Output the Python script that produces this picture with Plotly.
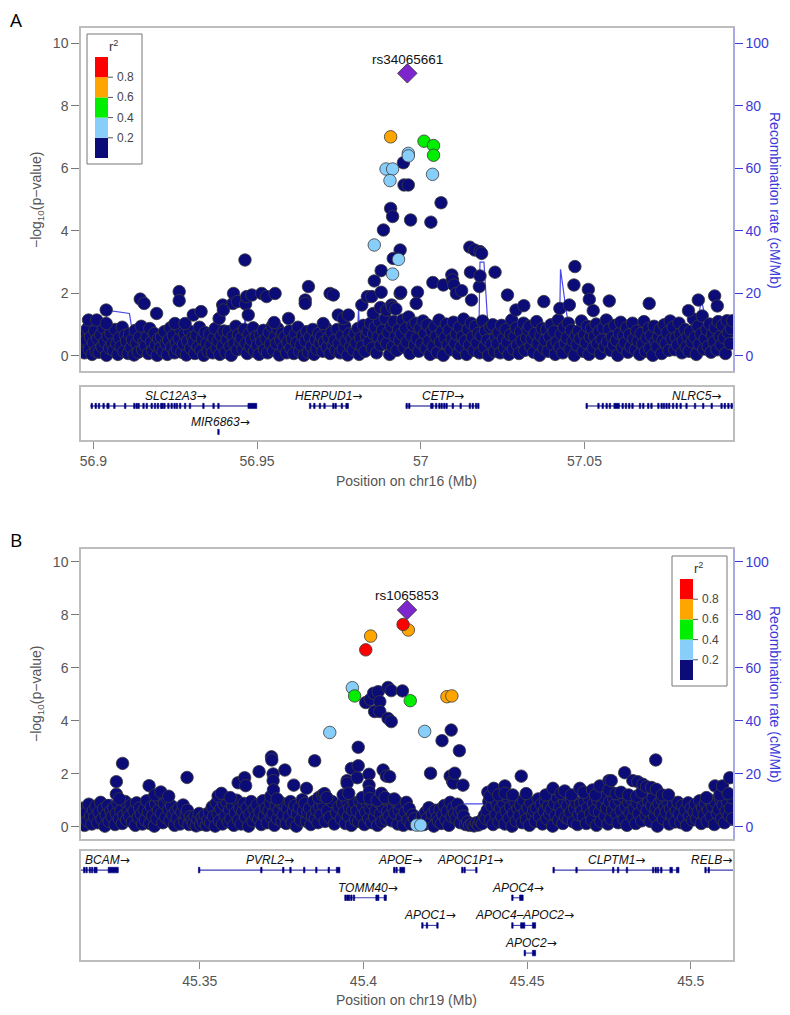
import plotly.graph_objects as go

# ================= PANEL A (chr16) =================
a_range = [56.8962, 57.0954]
a_ticks = [56.9, 56.95, 57.0, 57.05]
a_ticktext = ["56.9", "56.95", "57", "57.05"]

# dense background of weakly associated SNPs (r2 < 0.2)
a_band_pos = [
    56.8964,56.8969,56.8973,56.8978,56.8982,56.8987,56.8991,56.8996,56.9000,56.9004,56.9008,
    56.9013,56.9017,56.9022,56.9026,56.9030,56.9035,56.9040,56.9044,56.9049,56.9053,56.9057,
    56.9062,56.9066,56.9071,56.9075,56.9079,56.9084,56.9088,56.9093,56.9097,56.9101,56.9106,
    56.9110,56.9115,56.9119,56.9124,56.9128,56.9132,56.9137,56.9141,56.9146,56.9150,56.9155,
    56.9159,56.9164,56.9168,56.9172,56.9177,56.9181,56.9186,56.9190,56.9195,56.9199,56.9204,
    56.9208,56.9213,56.9217,56.9222,56.9226,56.9230,56.9235,56.9239,56.9244,56.9248,56.9253,
    56.9257,56.9262,56.9266,56.9270,56.9275,56.9279,56.9284,56.9288,56.9293,56.9297,56.9302,
    56.9306,56.9310,56.9315,56.9319,56.9324,56.9328,56.9333,56.9337,56.9341,56.9346,56.9350,
    56.9355,56.9359,56.9364,56.9368,56.9372,56.9377,56.9381,56.9386,56.9390,56.9395,56.9399,
    56.9404,56.9408,56.9412,56.9417,56.9421,56.9426,56.9430,56.9435,56.9439,56.9443,56.9448,
    56.9452,56.9457,56.9461,56.9466,56.9470,56.9475,56.9479,56.9483,56.9488,56.9492,56.9497,
    56.9501,56.9506,56.9510,56.9514,56.9519,56.9523,56.9528,56.9532,56.9537,56.9541,56.9546,
    56.9550,56.9554,56.9559,56.9563,56.9568,56.9572,56.9577,56.9581,56.9585,56.9590,56.9594,
    56.9599,56.9603,56.9608,56.9612,56.9617,56.9621,56.9625,56.9630,56.9634,56.9639,56.9643,
    56.9648,56.9652,56.9657,56.9661,56.9666,56.9670,56.9674,56.9679,56.9683,56.9688,56.9692,
    56.9697,56.9701,56.9706,56.9710,56.9714,56.9719,56.9723,56.9728,56.9732,56.9737,56.9741,
    56.9745,56.9750,56.9754,56.9759,56.9763,56.9768,56.9772,56.9777,56.9781,56.9785,56.9790,
    56.9794,56.9799,56.9803,56.9808,56.9812,56.9816,56.9821,56.9825,56.9830,56.9834,56.9839,
    56.9843,56.9847,56.9852,56.9856,56.9861,56.9865,56.9870,56.9874,56.9878,56.9883,56.9887,
    56.9892,56.9896,56.9901,56.9905,56.9910,56.9914,56.9918,56.9923,56.9927,56.9932,56.9936,
    56.9941,56.9945,56.9949,56.9954,56.9958,56.9963,56.9967,56.9972,56.9976,56.9981,56.9985,
    56.9989,56.9994,56.9998,57.0003,57.0007,57.0012,57.0016,57.0020,57.0025,57.0029,57.0034,
    57.0038,57.0043,57.0047,57.0051,57.0056,57.0060,57.0065,57.0069,57.0074,57.0078,57.0083,
    57.0087,57.0092,57.0096,57.0100,57.0105,57.0109,57.0114,57.0118,57.0123,57.0127,57.0131,
    57.0136,57.0140,57.0145,57.0149,57.0154,57.0158,57.0163,57.0167,57.0172,57.0176,57.0180,
    57.0185,57.0189,57.0194,57.0198,57.0203,57.0207,57.0212,57.0216,57.0220,57.0225,57.0229,
    57.0234,57.0238,57.0243,57.0247,57.0252,57.0256,57.0260,57.0265,57.0269,57.0274,57.0278,
    57.0283,57.0287,57.0292,57.0296,57.0300,57.0305,57.0309,57.0314,57.0318,57.0323,57.0327,
    57.0332,57.0336,57.0340,57.0345,57.0349,57.0354,57.0358,57.0363,57.0367,57.0371,57.0376,
    57.0380,57.0385,57.0389,57.0394,57.0398,57.0403,57.0407,57.0411,57.0416,57.0420,57.0425,
    57.0429,57.0434,57.0438,57.0442,57.0447,57.0451,57.0456,57.0460,57.0465,57.0469,57.0474,
    57.0478,57.0482,57.0487,57.0491,57.0496,57.0500,57.0505,57.0509,57.0514,57.0518,57.0522,
    57.0527,57.0531,57.0536,57.0540,57.0545,57.0549,57.0554,57.0558,57.0562,57.0567,57.0571,
    57.0576,57.0580,57.0585,57.0589,57.0593,57.0598,57.0602,57.0607,57.0611,57.0616,57.0620,
    57.0624,57.0629,57.0633,57.0638,57.0642,57.0647,57.0651,57.0656,57.0660,57.0664,57.0669,
    57.0673,57.0678,57.0682,57.0687,57.0691,57.0696,57.0700,57.0704,57.0709,57.0713,57.0718,
    57.0722,57.0727,57.0731,57.0736,57.0740,57.0744,57.0749,57.0753,57.0758,57.0762,57.0767,
    57.0771,57.0776,57.0780,57.0785,57.0789,57.0793,57.0798,57.0802,57.0807,57.0811,57.0816,
    57.0820,57.0824,57.0829,57.0833,57.0838,57.0842,57.0847,57.0851,57.0856,57.0860,57.0865,
    57.0869,57.0874,57.0878,57.0883,57.0887,57.0891,57.0896,57.0900,57.0905,57.0909,57.0914,
    57.0918,57.0922,57.0927,57.0931,57.0936,57.0940,57.0945,57.0949,57.0953,
]
a_band_logp = [
    0.35,0.75,0.10,0.50,0.88,0.22,0.60,0.05,0.42,0.80,0.15,
    0.55,0.12,0.68,0.30,0.90,0.45,0.02,0.62,0.25,0.72,0.38,
    0.18,0.85,0.40,0.05,0.58,0.30,0.92,0.15,0.66,0.48,0.08,
    0.70,0.28,0.52,0.03,0.82,0.40,0.12,0.60,0.95,0.20,0.45,
    0.32,0.62,0.08,0.88,0.45,0.18,0.72,0.35,0.02,0.55,0.25,
    0.60,0.15,0.78,0.40,0.05,0.50,0.90,0.28,0.65,0.10,0.42,
    0.22,0.55,0.85,0.12,0.38,0.70,0.03,0.48,0.80,0.25,0.60,
    0.45,0.08,0.66,0.30,0.92,0.18,0.55,0.02,0.75,0.40,0.15,
    0.70,0.35,0.10,0.58,0.88,0.25,0.48,0.05,0.65,0.32,0.80,
    0.12,0.52,0.78,0.30,0.02,0.62,0.40,0.95,0.20,0.68,0.45,
    0.58,0.22,0.85,0.40,0.08,0.70,0.30,0.52,0.90,0.15,0.62,
    0.35,0.05,0.68,0.45,0.82,0.20,0.55,0.10,0.75,0.38,0.95,
    0.18,0.60,0.40,0.88,0.03,0.50,0.72,0.28,0.62,0.10,0.45,
    0.80,0.25,0.55,0.08,0.70,0.42,0.92,0.15,0.35,0.65,0.02,
    0.48,0.78,0.12,0.60,0.30,0.85,0.05,0.52,0.22,0.72,0.40,
    0.62,0.15,0.45,0.90,0.28,0.58,0.08,0.75,0.35,0.50,0.18,
    0.85,0.40,0.10,0.65,0.22,0.95,0.48,0.03,0.70,0.30,0.55,
    0.20,0.72,0.42,0.88,0.05,0.58,0.30,0.98,0.15,0.65,0.80,
    0.45,1.05,0.25,0.70,0.92,0.10,0.60,1.10,0.35,0.82,0.55,
    1.20,0.40,0.75,0.05,0.95,0.30,1.10,0.62,0.18,0.85,0.50,
    0.70,1.15,0.28,0.88,0.45,1.25,0.08,0.65,0.98,0.35,1.05,
    0.55,0.15,0.90,0.40,1.12,0.72,0.25,1.00,0.48,0.05,0.80,
    0.30,0.95,0.62,0.12,1.15,0.45,0.78,0.02,0.58,1.02,0.35,
    0.82,0.20,0.55,1.08,0.40,0.70,0.08,0.92,0.30,0.62,1.18,
    0.48,0.05,0.85,0.35,1.05,0.60,0.18,0.95,0.42,0.72,0.10,
    0.65,1.12,0.28,0.80,0.50,0.02,0.92,0.38,1.00,0.15,0.58,
    0.40,0.75,0.10,0.98,0.55,0.25,0.85,0.45,0.05,0.68,1.15,
    0.22,0.62,0.90,0.35,0.08,0.78,0.48,1.05,0.18,0.58,0.85,
    0.95,0.30,0.55,0.12,0.72,1.10,0.40,0.02,0.65,0.88,0.25,
    0.50,0.85,0.15,0.62,1.00,0.35,0.78,0.05,0.45,1.15,0.28,
    0.70,0.10,0.92,0.40,0.58,1.05,0.22,0.82,0.48,0.02,0.65,
    0.35,0.80,0.55,1.12,0.15,0.68,0.42,0.95,0.05,0.60,0.88,
    0.25,0.62,1.02,0.40,0.78,0.08,0.52,0.90,0.30,1.15,0.45,
    0.85,0.18,0.60,0.35,0.98,0.50,0.02,0.72,1.08,0.28,0.65,
    0.42,0.90,0.12,0.68,0.30,1.05,0.55,0.20,0.80,0.48,0.05,
    0.72,0.38,1.10,0.15,0.58,0.88,0.25,0.65,0.02,0.95,0.45,
    0.30,0.62,0.85,0.08,0.50,1.00,0.40,0.75,0.18,1.12,0.55,
    0.92,0.20,0.58,0.35,1.05,0.70,0.10,0.48,0.85,0.28,0.62,
    0.15,0.78,0.45,1.18,0.60,0.05,0.95,0.38,0.70,1.28,0.22,
    0.55,0.85,0.30,1.02,0.12,0.68,0.45,0.90,0.20,1.10,0.62,
    0.35,0.98,0.58,0.08,1.13,0.75,0.40,0.88,1.13,
]
# navy SNPs standing out above the background
a_top_pos = [
    56.8985,56.9010,56.9039,56.9039,56.9143,56.9155,56.9193,56.9262,56.9262,56.9249,
    56.9280,56.9305,56.9329,56.9384,56.9395,56.9397,56.9426,56.9428,56.9440,56.9463,
    56.9465,56.9468,56.9473,56.9484,56.9514,56.9529,56.9552,56.9555,56.9596,56.9647,
    56.9647,56.9657,56.9702,56.9723,56.9733,56.9748,56.9764,56.9779,56.9820,56.9837,
    56.9850,56.9858,56.9855,56.9877,56.9879,56.9879,56.9886,56.9896,56.9908,56.9911,
    56.9914,56.9914,56.9924,56.9937,56.9937,
    56.9947,56.9949,56.9962,56.9969,57.0031,57.0062,56.9916,56.9939,56.9990,56.9986,
    57.0037,57.0069,57.0095,57.0097,57.0101,57.0109,57.0125,57.0150,57.0165,57.0181,
    57.0186,57.0152,57.0155,57.0179,57.0181,57.0227,57.0265,57.0291,57.0315,57.0376,
    57.0425,57.0454,57.0471,57.0468,57.0512,57.0515,57.0527,57.0576,57.0698,57.0818,
    57.0848,57.0898,57.0906,
]
a_top_logp = [
    1.15,1.15,1.47,1.04,1.82,1.68,1.36,2.06,1.77,1.04,
    1.04,1.31,1.42,1.20,1.63,1.47,1.68,2.00,1.74,3.07,
    1.66,1.90,1.31,1.95,2.00,1.90,1.07,2.00,1.20,1.79,
    1.68,2.22,1.04,2.00,1.95,1.31,1.20,1.31,1.63,1.90,
    1.90,2.40,1.36,1.55,2.73,2.04,4.03,1.47,4.72,1.63,
    4.46,1.55,1.50,3.39,2.00,
    6.18,5.47,5.47,4.35,4.28,4.90,3.12,2.04,2.04,1.68,
    2.35,2.27,2.59,2.43,2.27,2.00,2.09,3.48,3.39,3.34,
    3.28,2.68,1.79,2.22,2.56,2.68,1.95,1.47,1.61,1.74,
    1.52,1.63,2.86,2.27,2.13,1.81,1.45,1.76,1.68,1.45,
    1.79,1.92,1.60,
]
a_lblue_pos = [56.9894, 56.9914, 56.9906, 56.9858, 56.9914, 56.9932, 56.9962, 56.9962, 57.0036]
a_lblue_logp = [5.98, 5.98, 5.61, 3.55, 2.62, 3.09, 6.48, 6.40, 5.81]
a_green_pos = [57.0010, 57.0039, 57.0039]
a_green_logp = [6.87, 6.73, 6.42]
a_orange_pos = [56.9908]
a_orange_logp = [7.01]
a_red_pos = []
a_red_logp = []
a_lead_pos = [56.9959]
a_lead_logp = [9.04]
a_lead_name = "rs34065661"

a_rec_pos = [56.8962, 56.8995, 56.9003, 56.9020, 56.9050, 56.9110, 56.9123, 56.9180, 56.9300, 56.9400,
             56.9461, 56.9463, 56.9468, 56.9600, 56.9700, 56.9805, 56.9810, 56.9815, 56.9878, 56.9895,
             56.9950, 57.0050, 57.0150, 57.0177, 57.0181, 57.0193, 57.0205, 57.0220, 57.0300, 57.0370,
             57.0372, 57.0424, 57.0427, 57.0445, 57.0460, 57.0500, 57.0600, 57.0700, 57.0800, 57.0836,
             57.0857, 57.0877, 57.0900, 57.0954]
a_rec_rate = [3, 3, 9, 9, 14.5, 13.6, 5, 3, 2, 1.5,
              1.5, 16, 2, 1.5, 1.5, 4, 15, 4, 12, 3,
              2, 1.5, 2, 3, 30, 30, 10, 4, 2, 1,
              8.8, 8.8, 27.7, 14, 5, 2, 1.5, 1.5, 1.5, 2,
              18.4, 8, 3, 3]

a_gene_names = ["SLC12A3", "HERPUD1", "CETP", "NLRC5", "MIR6863"]
a_gene_rows = [1, 1, 1, 1, 2]
a_gene_starts = [56.8990, 56.9662, 56.9954, 57.0507, 56.9381]
a_gene_ends = [56.9499, 56.9779, 57.0176, 57.1000, 56.9383]
a_gene_label_pos = [56.9250, 56.9718, 57.0069, 57.0843, 56.9387]
a_gene_exons = [
    [56.8995, 56.9007, 56.9017, 56.9031, (56.9041, 56.9048), 56.9064, 56.9097, 56.9125, 56.9132, 56.9138,
     56.9153, 56.9163, 56.9178, 56.9188, 56.9197, 56.9207, 56.9211, 56.9217, 56.9229, 56.9239, 56.9248,
     56.9255, 56.9265, 56.9280, 56.9295, 56.9336, 56.9367, 56.9382, (56.9472, 56.9499)],
    [56.9662, 56.9675, 56.9692, 56.9706, 56.9733, 56.9740, 56.9759, (56.9771, 56.9779)],
    [56.9957, 56.9965, (57.0030, 57.0038), 57.0047, 57.0057, 57.0064, 57.0072, 57.0079, 57.0098, 57.0122,
     57.0150, 57.0159, 57.0169, 57.0176],
    [57.0507, 57.0543, 57.0556, 57.0568, 57.0578, (57.0590, 57.0607), 57.0617, 57.0627, 57.0637, 57.0647,
     57.0670, 57.0680, 57.0695, 57.0705, 57.0726, 57.0736, 57.0743, 57.0751, 57.0759, 57.0771, 57.0782,
     57.0794, 57.0812, 57.0838, 57.0863, 57.0889, 57.0919, 57.0929, 57.0940, 57.0950],
    [(56.9381, 56.9383)],
]

# ================= PANEL B (chr19) =================
b_range = [45.3137, 45.5129]
b_ticks = [45.35, 45.40, 45.45, 45.50]
b_ticktext = ["45.35", "45.4", "45.45", "45.5"]

b_band_pos = [
    45.3139,45.3143,45.3148,45.3152,45.3157,45.3161,45.3166,45.3170,45.3175,45.3179,45.3183,
    45.3188,45.3192,45.3197,45.3201,45.3206,45.3210,45.3214,45.3219,45.3223,45.3228,45.3232,
    45.3237,45.3241,45.3245,45.3250,45.3254,45.3259,45.3263,45.3268,45.3272,45.3276,45.3281,
    45.3285,45.3290,45.3294,45.3299,45.3303,45.3307,45.3312,45.3316,45.3321,45.3325,45.3330,
    45.3334,45.3338,45.3343,45.3347,45.3352,45.3356,45.3361,45.3365,45.3369,45.3374,45.3378,
    45.3383,45.3387,45.3392,45.3396,45.3400,45.3405,45.3409,45.3414,45.3418,45.3423,45.3427,
    45.3431,45.3436,45.3440,45.3445,45.3449,45.3454,45.3458,45.3462,45.3467,45.3471,45.3476,
    45.3480,45.3485,45.3489,45.3494,45.3498,45.3502,45.3507,45.3511,45.3516,45.3520,45.3525,
    45.3529,45.3533,45.3538,45.3542,45.3547,45.3551,45.3556,45.3560,45.3564,45.3569,45.3573,
    45.3578,45.3582,45.3587,45.3591,45.3595,45.3600,45.3604,45.3609,45.3613,45.3618,45.3622,
    45.3626,45.3631,45.3635,45.3640,45.3644,45.3649,45.3653,45.3657,45.3662,45.3666,45.3671,
    45.3675,45.3680,45.3684,45.3688,45.3693,45.3697,45.3702,45.3706,45.3711,45.3715,45.3719,
    45.3724,45.3728,45.3733,45.3737,45.3742,45.3746,45.3751,45.3755,45.3759,45.3764,45.3768,
    45.3773,45.3777,45.3782,45.3786,45.3790,45.3795,45.3799,45.3804,45.3808,45.3813,45.3817,
    45.3821,45.3826,45.3830,45.3835,45.3839,45.3844,45.3848,45.3853,45.3857,45.3861,45.3866,
    45.3870,45.3876,45.3883,45.3890,45.3897,45.3904,45.3911,45.3918,45.3925,
    45.3932,45.3936,45.3941,45.3945,45.3950,45.3954,45.3958,45.3963,45.3967,45.3972,45.3976,
    45.3980,45.3985,45.3989,45.3994,45.3998,45.4003,45.4007,45.4011,45.4016,45.4020,45.4025,
    45.4029,45.4034,45.4038,45.4043,45.4047,45.4051,45.4056,45.4060,45.4065,45.4069,45.4074,
    45.4078,45.4082,45.4087,45.4091,45.4096,45.4100,45.4105,45.4109,45.4113,45.4118,45.4122,
    45.4127,45.4131,45.4136,45.4140,45.4145,45.4150,45.4156,45.4168,45.4180,
    45.4185,45.4190,45.4195,45.4200,45.4205,45.4210,45.4215,45.4220,45.4225,45.4229,
    45.4234,45.4238,45.4243,45.4247,45.4252,45.4256,45.4261,45.4265,45.4270,45.4274,45.4278,
    45.4283,45.4287,45.4292,45.4296,45.4301,45.4306,45.4312,45.4318,45.4324,
    45.4331,45.4338,45.4345,45.4351,45.4357,45.4363,45.4369,45.4374,
    45.4378,45.4383,45.4387,45.4392,45.4396,45.4401,45.4405,45.4409,45.4414,45.4418,45.4423,
    45.4427,45.4432,45.4436,45.4441,45.4445,45.4449,45.4454,45.4458,45.4463,45.4467,45.4472,
    45.4476,45.4480,45.4485,45.4489,45.4494,45.4498,45.4503,45.4507,45.4511,45.4516,45.4520,
    45.4525,45.4529,45.4534,45.4538,45.4543,45.4547,45.4552,45.4556,45.4560,45.4565,45.4569,
    45.4574,45.4578,45.4583,45.4587,45.4592,45.4596,45.4600,45.4605,45.4609,45.4614,45.4618,
    45.4623,45.4627,45.4632,45.4636,45.4641,45.4645,45.4649,45.4654,45.4658,45.4663,45.4667,
    45.4672,45.4676,45.4681,45.4685,45.4689,45.4694,45.4698,45.4703,45.4707,45.4712,45.4716,
    45.4721,45.4725,45.4729,45.4734,45.4738,45.4743,45.4747,45.4752,45.4756,45.4761,45.4765,
    45.4770,45.4774,45.4778,45.4783,45.4787,45.4792,45.4796,45.4801,45.4805,45.4810,45.4814,
    45.4818,45.4823,45.4827,45.4832,45.4836,45.4841,45.4845,45.4850,45.4854,45.4858,45.4863,
    45.4867,45.4872,45.4876,45.4881,45.4885,45.4890,45.4894,45.4898,45.4903,45.4907,45.4912,
    45.4916,45.4921,45.4925,45.4930,45.4934,45.4938,45.4943,45.4947,45.4952,45.4956,45.4961,
    45.4965,45.4970,45.4974,45.4978,45.4983,45.4987,45.4992,45.4996,45.5001,45.5005,45.5010,
    45.5014,45.5018,45.5023,45.5027,45.5032,45.5036,45.5041,45.5045,45.5050,45.5054,45.5059,
    45.5063,45.5067,45.5072,45.5076,45.5081,45.5085,45.5090,45.5094,45.5099,45.5103,45.5108,
    45.5112,45.5117,45.5121,45.5125,45.5128,
]
b_band_logp = [
    0.30,0.70,0.05,0.52,0.22,0.85,0.40,0.10,0.62,0.35,0.78,
    0.15,0.55,0.92,0.28,0.68,0.02,0.45,0.80,0.20,0.60,0.38,
    0.72,0.08,0.50,0.88,0.30,0.62,0.12,0.42,0.95,0.25,0.58,
    0.40,0.82,0.18,0.60,0.05,0.90,0.35,0.70,0.48,0.10,0.65,
    0.25,0.98,0.55,0.12,0.75,0.40,0.02,0.85,0.30,0.62,1.02,
    0.50,0.15,0.88,0.35,1.08,0.65,0.22,0.78,0.45,0.05,0.60,
    0.32,0.70,0.10,0.55,0.82,0.20,0.45,0.62,0.08,0.38,0.25,
    0.12,0.40,0.03,0.28,0.50,0.08,0.35,0.18,0.45,0.05,0.25,
    0.55,0.15,0.75,0.38,0.02,0.90,0.48,0.22,0.68,0.10,0.85,
    0.40,0.95,0.18,0.62,0.30,0.80,0.05,0.52,1.00,0.25,0.70,
    0.10,0.58,0.88,0.35,0.72,0.02,0.48,0.95,0.22,0.65,0.40,
    0.82,0.28,0.55,0.08,0.98,0.42,0.70,0.15,0.60,0.90,0.35,
    0.50,0.05,0.78,0.30,0.62,0.92,0.20,0.45,0.85,0.12,0.68,
    0.38,0.95,0.15,0.58,0.80,0.02,0.48,0.72,0.25,1.02,0.60,
    0.88,0.20,0.52,0.70,0.08,0.40,0.95,0.30,0.62,0.15,0.78,
    0.45,0.85,0.20,0.60,0.35,0.95,0.10,0.52,0.75,
    0.30,0.88,0.55,0.12,0.98,0.40,0.70,0.05,0.62,0.90,0.25,
    0.60,0.20,0.95,0.42,0.78,0.08,0.55,0.90,0.30,0.68,0.15,
    0.85,0.35,0.62,0.05,0.92,0.48,0.18,0.75,1.05,0.28,0.58,
    0.40,1.00,0.22,0.70,0.52,0.95,0.10,0.62,0.85,0.35,0.05,
    0.55,0.92,0.25,0.68,0.10,0.45,0.30,0.12,0.40,
    0.08,0.55,0.30,0.72,0.15,0.48,0.02,0.62,0.35,0.20,
    0.65,0.12,0.45,0.80,0.25,0.58,0.05,0.92,0.38,0.70,0.50,
    0.30,0.85,0.55,0.15,0.62,0.40,0.08,0.18,0.05,
    0.10,0.03,0.15,0.06,0.20,0.12,0.42,0.30,
    0.62,0.95,0.25,0.78,0.08,1.05,0.45,0.85,0.18,0.70,0.38,
    0.90,0.10,0.58,1.10,0.32,0.75,0.02,0.50,0.95,0.22,0.68,
    0.40,0.82,0.15,1.00,0.55,0.28,0.72,0.05,0.92,0.45,0.62,
    0.20,0.70,1.05,0.38,0.85,0.10,0.58,0.95,0.30,0.78,0.48,
    0.65,0.02,0.88,0.42,1.10,0.25,0.75,0.52,0.12,0.98,0.35,
    0.80,0.30,0.55,1.02,0.18,0.68,0.92,0.08,0.45,0.85,0.60,
    0.38,0.95,0.12,0.72,1.08,0.50,0.25,0.88,0.62,0.05,1.00,
    0.55,0.20,0.82,1.12,0.40,0.70,0.10,0.95,0.30,0.62,1.05,
    0.85,0.45,0.15,0.98,0.60,1.15,0.28,0.75,0.05,0.92,0.52,
    1.05,0.35,0.68,0.12,0.90,0.50,1.18,0.22,0.78,1.00,0.42,
    0.62,0.95,0.20,0.80,1.10,0.38,0.70,0.02,0.88,0.52,1.02,
    0.30,0.75,0.55,0.95,0.10,0.68,0.42,0.85,0.18,0.60,0.92,
    0.48,0.15,0.80,0.35,0.62,0.05,0.90,0.40,0.70,0.25,0.58,
    0.85,0.30,0.55,0.98,0.12,0.72,0.45,0.88,0.20,0.62,1.00,
    0.38,0.75,0.08,0.92,0.50,0.65,1.05,0.28,0.82,0.15,0.60,
    0.95,0.42,0.70,1.10,0.30,
]
b_top_pos = [
    45.3245,45.3245,45.3254,45.3264,45.3345,45.3363,45.3381,45.3405,45.3461,45.3556,
    45.3566,45.3593,45.3617,45.3637,45.3640,45.3681,45.3717,45.3719,45.3720,45.3724,
    45.3724,45.3725,45.3736,45.3760,45.3787,45.3826,45.3851,45.3863,45.3875,45.3881,
    45.3888,45.3938,45.3950,45.3950,45.3955,45.3963,45.3981,45.3984,45.3984,45.3996,
    45.4007,45.4017,45.4017,45.4018,45.4019,45.4021,45.4031,45.4034,45.4042,45.4045,
    45.4050,45.4050,45.4055,45.4060,45.4066,45.4070,45.4075,45.4075,45.4080,45.4085,
    45.4085,45.4094,45.4119,45.4205,45.4240,45.4265,45.4268,45.4272,45.4275,45.4279,
    45.4293,45.4304,45.4380,45.4386,45.4398,45.4413,45.4432,45.4432,45.4456,45.4482,
    45.4497,45.4557,45.4579,45.4603,45.4615,45.4636,45.4661,45.4673,45.4700,45.4709,
    45.4722,45.4750,45.4750,45.4757,45.4772,45.4787,45.4798,45.4810,45.4823,45.4835,
    45.4838,45.4850,45.4854,45.4865,45.4880,45.4893,45.4895,45.4913,45.4932,45.5048,
    45.5074,45.5089,45.5097,45.5115,45.5119,
]
b_top_logp = [
    1.23,1.70,1.05,2.39,1.55,1.20,1.31,1.15,1.86,1.16,
    1.26,1.10,1.66,1.85,1.55,2.08,1.15,2.64,2.52,1.99,
    1.74,1.39,1.05,2.14,1.57,1.45,2.49,1.10,1.20,1.25,
    1.10,1.20,1.74,1.64,1.26,2.20,1.85,2.30,3.00,1.10,
    4.69,1.98,1.57,1.32,1.07,4.81,5.04,4.35,1.00,5.10,
    4.72,4.35,1.26,2.14,1.10,1.91,5.26,4.09,1.89,5.14,
    3.97,1.05,5.13,2.02,3.25,1.91,3.65,1.72,1.65,2.02,
    2.87,1.57,1.30,1.15,1.45,1.20,1.54,1.26,1.20,1.91,
    1.25,1.20,1.45,1.25,1.35,1.20,1.45,1.30,1.39,1.20,
    1.54,1.74,1.39,1.74,1.25,1.30,2.04,1.20,1.74,1.15,
    1.70,1.30,1.60,1.51,1.48,2.52,1.41,1.20,1.20,1.10,
    1.54,1.20,1.54,1.25,1.85,
]
b_lblue_pos = [45.3897, 45.3966, 45.4187, 45.4162, 45.4175]
b_lblue_logp = [3.56, 5.25, 3.60, 0.06, 0.06]
b_green_pos = [45.3973, 45.4143]
b_green_logp = [4.94, 4.76]
b_orange_pos = [45.4137, 45.4022, 45.4255, 45.4270]
b_orange_logp = [7.43, 7.20, 4.91, 4.94]
b_red_pos = [45.4121, 45.4007]
b_red_logp = [7.64, 6.68]
b_lead_pos = [45.4133]
b_lead_logp = [8.19]
b_lead_name = "rs1065853"

b_rec_pos = [45.3137, 45.3180, 45.3186, 45.3230, 45.3243, 45.3300, 45.3400, 45.3500, 45.3600, 45.3700,
             45.3800, 45.3880, 45.3900, 45.3945, 45.3960, 45.4100, 45.4200, 45.4280, 45.4292, 45.4410,
             45.4418, 45.4500, 45.4600, 45.4800, 45.5000, 45.5129]
b_rec_rate = [3, 3.5, 10, 10.3, 2, 1.5, 1.2, 1, 1, 1,
              1.2, 2, 2.5, 0.5, 1.3, 1.3, 1.3, 1.3, 8.6, 8.6,
              1.2, 0.8, 0.6, 0.5, 0.5, 0.5]

b_gene_names = ["BCAM", "PVRL2", "APOE", "APOC1P1", "CLPTM1", "RELB",
                "TOMM40", "APOC4", "APOC1", "APOC4\u2013APOC2", "APOC2"]
b_gene_rows = [1, 1, 1, 1, 1, 1, 2, 2, 3, 3, 4]
b_gene_starts = [45.3100, 45.3498, 45.4091, 45.4302, 45.4581, 45.5045,
                 45.3945, 45.4455, 45.4180, 45.4455, 45.4493]
b_gene_ends = [45.3251, 45.3928, 45.4126, 45.4347, 45.4964, 45.5200,
               45.4070, 45.4488, 45.4226, 45.4526, 45.4526]
b_gene_label_pos = [45.3217, 45.3714, 45.4113, 45.4325, 45.4773, 45.5062,
                    45.4014, 45.4472, 45.4204, 45.4493, 45.4513]
b_gene_exons = [
    [45.3147, 45.3154, 45.3164, 45.3171, 45.3179, 45.3184, (45.3220, 45.3251)],
    [45.3498, 45.3688, 45.3755, 45.3777, 45.3819, 45.3856, 45.3894, (45.3917, 45.3928)],
    [45.4094, 45.4101, (45.4111, 45.4126)],
    [45.4302, 45.4309, (45.4343, 45.4347)],
    [45.4581, 45.4651, 45.4763, 45.4778, 45.4805, 45.4885, 45.4893, 45.4900, 45.4910,
     (45.4936, 45.4944), (45.4956, 45.4964)],
    [45.5045, 45.5055],
    [45.3945, 45.3951, 45.3956, 45.3963, 45.3971, 45.4040, 45.4045, (45.4063, 45.4070)],
    [45.4455, (45.4477, 45.4488)],
    [45.4180, 45.4194, 45.4226],
    [45.4455, (45.4480, 45.4493), (45.4516, 45.4526)],
    [45.4493, (45.4516, 45.4526)],
]

r2_colors = ["#0c0c78", "#87cefa", "#00ee00", "#ffa500", "#ff0000"]  # low -> high
r2_labels = ["0.2", "0.4", "0.6", "0.8"]

# ================= styling =================
# the page body has an 8px margin: figure is drawn inside it
OFF = 8
W, H = 790 - OFF, 1015 - OFF
FONT = "Liberation Sans, Arial, Helvetica, sans-serif"
GRAY = "#555555"
FRAME = "#bdbdbd"
RFRAME = "#a9a9e6"
BLUE = "#3a3ad8"
NAVY = "#000080"
LEAD = "#7d26cd"


def fx(p):
    return (p - OFF) / W


def fy(p):
    return 1 - (p - OFF) / H


fig = go.Figure()
annotations = []
shapes = []
ARROW = '<span style="font-family:DejaVu Sans">\u2192</span>'


def add_panel(xa_main, ya_rec, ya_p, xa_gene, ya_gene, rec_pos, rec_rate,
              groups, lead_pos, lead_logp, lead_name,
              g_names, g_rows, g_starts, g_ends, g_lab, g_exons, gene_line_color):
    fig.add_trace(go.Scatter(x=rec_pos, y=rec_rate, mode="lines", xaxis=xa_main, yaxis=ya_rec,
                             line=dict(color="rgba(40,40,230,0.85)", width=1.2),
                             hoverinfo="skip", showlegend=False))
    for (px, py, col) in groups:
        if not px:
            continue
        fig.add_trace(go.Scatter(x=px, y=py, mode="markers", xaxis=xa_main, yaxis=ya_p,
                                 marker=dict(size=12.5, color=col,
                                             line=dict(color="#3a3a3a", width=0.8)),
                                 showlegend=False))
    fig.add_trace(go.Scatter(x=lead_pos, y=lead_logp, mode="markers", xaxis=xa_main, yaxis=ya_p,
                             marker=dict(symbol="diamond", size=15, color=LEAD,
                                         line=dict(color="#333333", width=0.8)),
                             showlegend=False))
    annotations.append(dict(x=lead_pos[0], y=lead_logp[0], xref=xa_main, yref=ya_p,
                            text=lead_name, showarrow=False, yshift=14,
                            xanchor="center", yanchor="middle",
                            font=dict(family=FONT, size=13.5, color="#111111")))
    lx, ly = [], []
    ex, ey = [], []
    half_h = 0.1
    min_w = 0.00045
    for i in range(len(g_names)):
        row = -g_rows[i]
        lx += [g_starts[i], g_ends[i], None]
        ly += [row, row, None]
        for e in g_exons[i]:
            s, t = (e, e) if isinstance(e, float) else e
            if t - s < min_w:
                c = (s + t) / 2
                s, t = c - min_w / 2, c + min_w / 2
            ex += [s, t, t, s, s, None]
            ey += [row - half_h, row - half_h, row + half_h, row + half_h, row - half_h, None]
        annotations.append(dict(x=g_lab[i], y=row, xref=xa_gene, yref=ya_gene,
                                text="<i>" + g_names[i] + "</i>" + ARROW, showarrow=False,
                                xanchor="center", yanchor="middle",
                                yshift=10, font=dict(family=FONT, size=12, color="#111111")))
    fig.add_trace(go.Scatter(x=lx, y=ly, mode="lines", xaxis=xa_gene, yaxis=ya_gene,
                             line=dict(color=gene_line_color, width=1.1),
                             hoverinfo="skip", showlegend=False))
    fig.add_trace(go.Scatter(x=ex, y=ey, mode="lines", fill="toself", fillcolor=NAVY,
                             xaxis=xa_gene, yaxis=ya_gene,
                             line=dict(color=NAVY, width=0.6),
                             hoverinfo="skip", showlegend=False))


add_panel("x", "y", "y2", "x2", "y3", a_rec_pos, a_rec_rate,
          [(a_band_pos, a_band_logp, r2_colors[0]), (a_top_pos, a_top_logp, r2_colors[0]),
           (a_lblue_pos, a_lblue_logp, r2_colors[1]),
           (a_green_pos, a_green_logp, r2_colors[2]), (a_orange_pos, a_orange_logp, r2_colors[3]),
           (a_red_pos, a_red_logp, r2_colors[4])],
          a_lead_pos, a_lead_logp, a_lead_name,
          a_gene_names, a_gene_rows, a_gene_starts, a_gene_ends, a_gene_label_pos, a_gene_exons, NAVY)

add_panel("x3", "y4", "y5", "x4", "y6", b_rec_pos, b_rec_rate,
          [(b_band_pos, b_band_logp, r2_colors[0]), (b_top_pos, b_top_logp, r2_colors[0]),
           (b_lblue_pos, b_lblue_logp, r2_colors[1]),
           (b_green_pos, b_green_logp, r2_colors[2]), (b_orange_pos, b_orange_logp, r2_colors[3]),
           (b_red_pos, b_red_logp, r2_colors[4])],
          b_lead_pos, b_lead_logp, b_lead_name,
          b_gene_names, b_gene_rows, b_gene_starts, b_gene_ends, b_gene_label_pos, b_gene_exons,
          "#3d3db0")


def r2_legend(left, top):
    shapes.append(dict(type="rect", xref="paper", yref="paper",
                       x0=fx(left), x1=fx(left + 55), y0=fy(top + 130), y1=fy(top),
                       line=dict(color="#777777", width=1), fillcolor="white", layer="above"))
    bar_top, bar_h = top + 23, 101
    seg = bar_h / 5
    for k in range(5):
        y_hi = bar_top + (4 - k) * seg
        shapes.append(dict(type="rect", xref="paper", yref="paper",
                           x0=fx(left + 8), x1=fx(left + 21),
                           y0=fy(y_hi + seg), y1=fy(y_hi),
                           line=dict(width=0), fillcolor=r2_colors[k], layer="above"))
    for k, lab in enumerate(r2_labels):
        yb = bar_top + (4 - k) * seg
        shapes.append(dict(type="line", xref="paper", yref="paper",
                           x0=fx(left + 21), x1=fx(left + 26), y0=fy(yb), y1=fy(yb),
                           line=dict(color="#555555", width=1), layer="above"))
        annotations.append(dict(x=fx(left + 28), y=fy(yb), xref="paper", yref="paper",
                                text=lab, showarrow=False, xanchor="left", yanchor="middle",
                                font=dict(family=FONT, size=12, color="#444444")))
    annotations.append(dict(x=fx(left + 26), y=fy(top + 12), xref="paper", yref="paper",
                            text="r<sup>2</sup>", showarrow=False, xanchor="center", yanchor="middle",
                            font=dict(family=FONT, size=13, color="#333333")))


r2_legend(87, 34)
r2_legend(672, 556)

for letter, ypx in [("A", 20), ("B", 540)]:
    annotations.append(dict(x=fx(OFF), y=fy(ypx), xref="paper", yref="paper", text=letter,
                            showarrow=False, xanchor="left", yanchor="middle",
                            font=dict(family="Open Sans, sans-serif", size=19, color="black")))
for yc in [200, 694]:
    annotations.append(dict(x=fx(37), y=fy(yc), xref="paper", yref="paper",
                            text="\u2212log<sub>10</sub>(p\u2212value)", textangle=-90, showarrow=False,
                            xanchor="center", yanchor="middle",
                            font=dict(family=FONT, size=14, color=GRAY)))
    annotations.append(dict(x=fx(775), y=fy(yc), xref="paper", yref="paper",
                            text="Recombination rate (cM/Mb)", textangle=90, showarrow=False,
                            xanchor="center", yanchor="middle",
                            font=dict(family=FONT, size=14, color=BLUE)))
for txt, ypx in [("Position on chr16 (Mb)", 481), ("Position on chr19 (Mb)", 1000)]:
    annotations.append(dict(x=fx(407), y=fy(ypx), xref="paper", yref="paper", text=txt,
                            showarrow=False, xanchor="center", yanchor="middle",
                            font=dict(family=FONT, size=14, color=GRAY)))

xdom = [fx(81), fx(733)]
common_x = dict(domain=xdom, showgrid=False, zeroline=False, showline=True, mirror=True,
                linecolor=FRAME, linewidth=1.5)
rec_axis = dict(side="right", tickvals=[0, 20, 40, 60, 80, 100], ticks="outside",
                ticklen=8, tickcolor=BLUE, tickfont=dict(family=FONT, size=14, color=BLUE),
                showgrid=False, zeroline=False, showline=True, mirror=False,
                linecolor=RFRAME, linewidth=1.5)
p_axis = dict(side="left", tickvals=[0, 2, 4, 6, 8, 10], ticks="outside", ticklen=8,
              tickcolor="#777777", tickfont=dict(family=FONT, size=14, color=GRAY),
              showgrid=False, zeroline=False, showline=True, linecolor=FRAME, linewidth=1.5)
gene_x = dict(common_x, ticks="outside", ticklen=7, tickcolor="#888888",
              tickfont=dict(family=FONT, size=14, color=GRAY))
gene_y = dict(showticklabels=False, ticks="", showgrid=False, zeroline=False,
              showline=True, mirror=True, linecolor=FRAME, linewidth=1.5)

fig.update_layout(
    width=W, height=H, margin=dict(l=0, r=0, t=0, b=0),
    paper_bgcolor="white", plot_bgcolor="white", showlegend=False,
    font=dict(family=FONT),
    xaxis=dict(common_x, range=a_range, anchor="y", showticklabels=False, ticks=""),
    yaxis=dict(rec_axis, domain=[fy(371), fy(28)], range=[-4.8, 104.9], anchor="x"),
    yaxis2=dict(p_axis, overlaying="y", anchor="x", range=[-0.48, 10.49]),
    xaxis2=dict(gene_x, range=a_range, anchor="y3", tickvals=a_ticks, ticktext=a_ticktext),
    yaxis3=dict(gene_y, domain=[fy(440), fy(387)], range=[-2.31, -0.27], anchor="x2"),
    xaxis3=dict(common_x, range=b_range, anchor="y4", showticklabels=False, ticks=""),
    yaxis4=dict(rec_axis, domain=[fy(839), fy(549)], range=[-4.65, 104.9], anchor="x3"),
    yaxis5=dict(p_axis, overlaying="y4", anchor="x3", range=[-0.465, 10.49]),
    xaxis4=dict(gene_x, range=b_range, anchor="y6", tickvals=b_ticks, ticktext=b_ticktext),
    yaxis6=dict(gene_y, domain=[fy(960), fy(851)], range=[-4.25, -0.31], anchor="x4"),
    annotations=annotations, shapes=shapes,
)

fig.write_html("out.html")
